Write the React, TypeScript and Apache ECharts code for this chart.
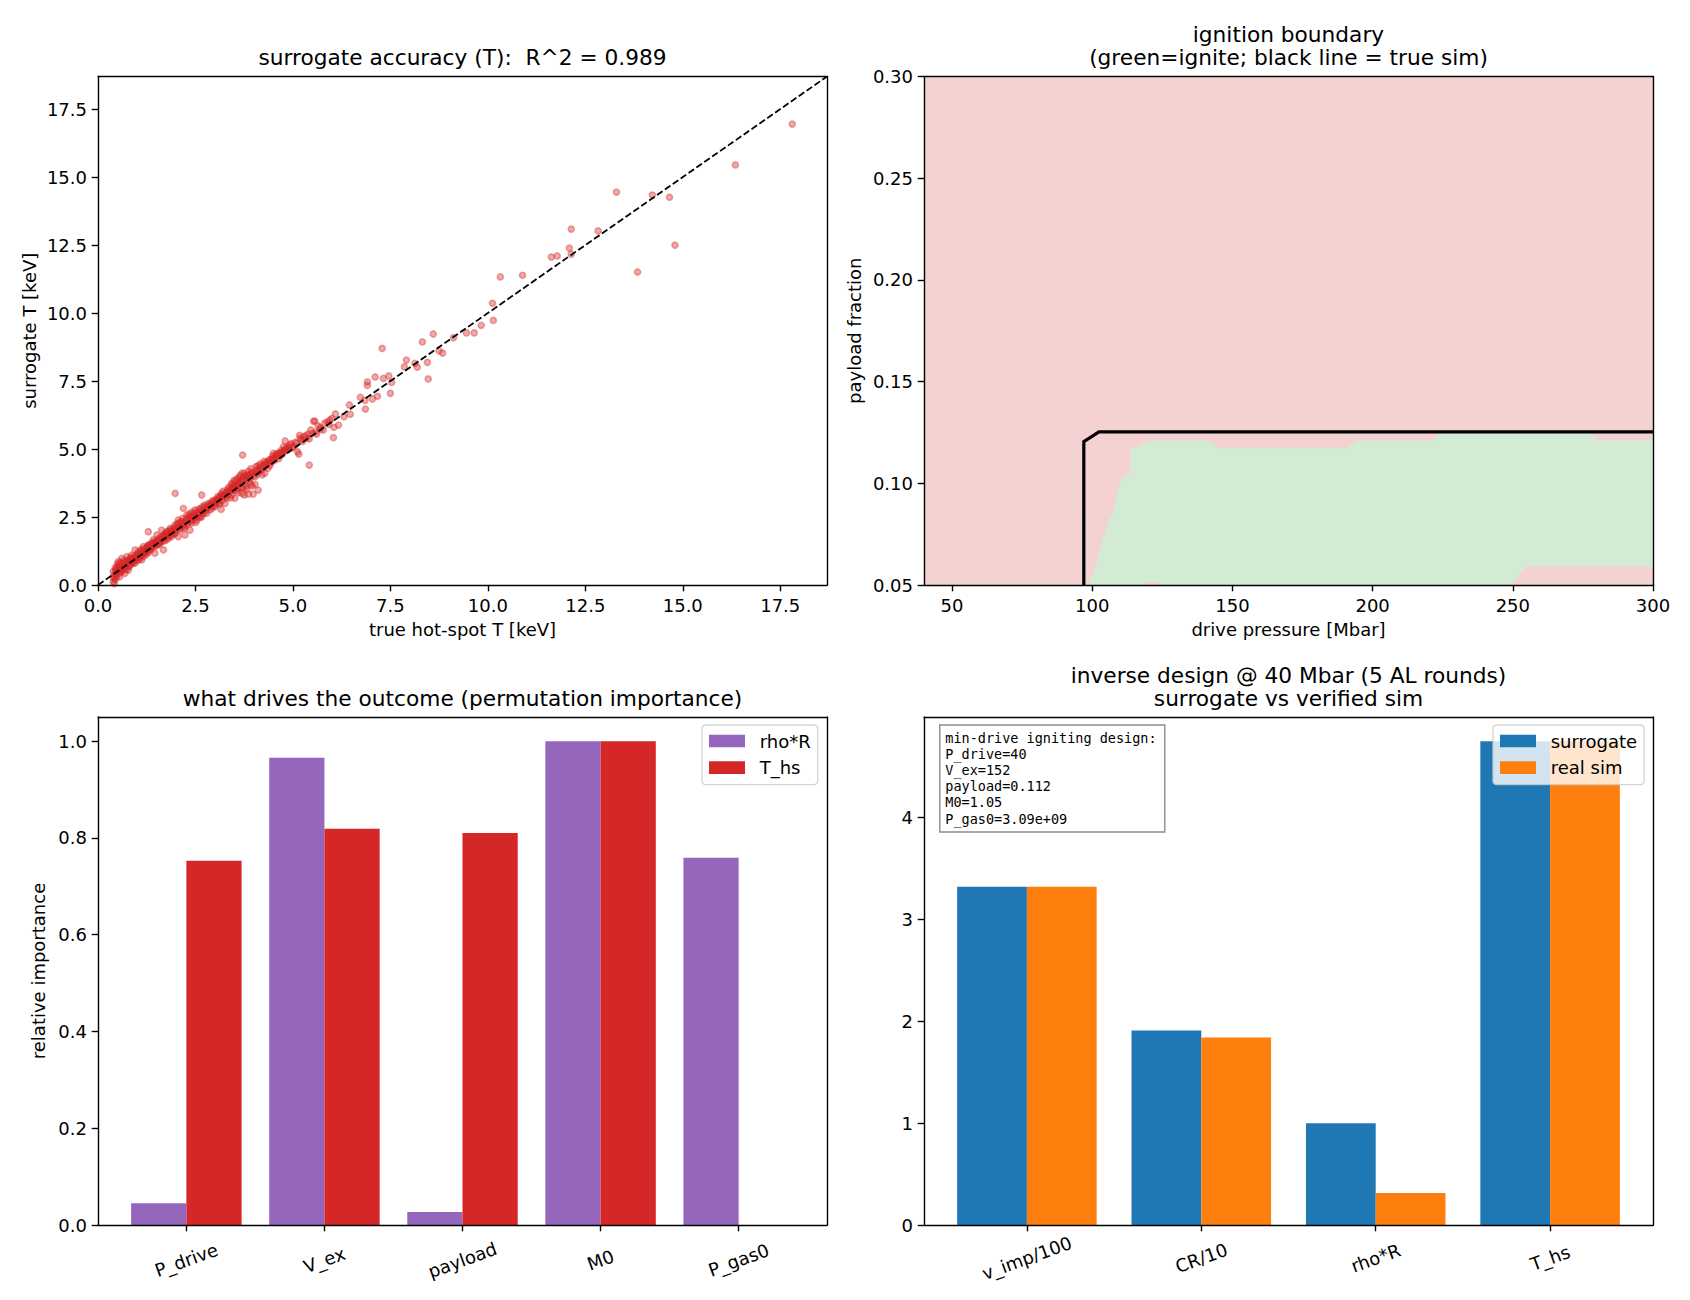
import React, { useEffect, useRef } from "react";
import * as echarts from "echarts";

// ---- surrogate accuracy scatter: [true hot-spot T, surrogate T] in keV ----
const accuracyPoints: [number, number][] = [
  [0.39, 0.12], [0.42, 0.05], [0.44, 0.2], [0.4, 0.31], [0.46, 0.38], [0.39, 0.49], [0.48, 0.44], [0.52, 0.58],
  [0.44, 0.62], [0.48, 0.67], [0.5, 0.78], [0.52, 0.86], [0.55, 0.71], [0.56, 0.55], [0.56, 0.31], [0.58, 0.47],
  [0.6, 0.64], [0.61, 0.98], [0.62, 0.8], [0.64, 0.52], [0.65, 0.74], [0.66, 0.9], [0.68, 0.6], [0.69, 0.43],
  [0.7, 0.84], [0.72, 0.69], [0.74, 1.04], [0.75, 0.77], [0.76, 0.92], [0.78, 0.55], [0.78, 0.67], [0.8, 0.86],
  [0.82, 0.98], [0.84, 0.75], [0.86, 0.86], [0.86, 1.1], [0.88, 0.94], [0.9, 0.8], [0.92, 1.02], [0.95, 0.8],
  [0.95, 1.29], [0.96, 0.92], [0.99, 0.98], [1.0, 1.12],
  [0.41, 0.25], [0.43, 0.4], [0.45, 0.55], [0.47, 0.28], [0.5, 0.5], [0.53, 0.66], [0.54, 0.42], [0.57, 0.82],
  [0.59, 0.57], [0.63, 0.7], [0.66, 0.64], [0.71, 0.77], [0.73, 0.58], [0.77, 0.84], [0.81, 0.7], [0.83, 0.92],
  [0.87, 1.02], [0.89, 0.85], [0.93, 0.9], [0.97, 1.06],
  [1.02, 0.9], [1.03, 1.22], [1.05, 1.05], [1.07, 0.96], [1.09, 1.15], [1.1, 1.3], [1.12, 0.92], [1.12, 1.1],
  [1.14, 1.22], [1.16, 1.41], [1.17, 1.05], [1.19, 1.18], [1.21, 1.22], [1.22, 1.35], [1.24, 1.12], [1.26, 1.28],
  [1.28, 1.45], [1.29, 1.47], [1.29, 1.96], [1.3, 1.2], [1.32, 1.38], [1.33, 1.29], [1.35, 1.52], [1.37, 1.32],
  [1.39, 1.44], [1.41, 1.58], [1.42, 1.66], [1.44, 1.4], [1.46, 1.17], [1.46, 1.47], [1.48, 1.6], [1.5, 1.52],
  [1.51, 1.84], [1.53, 1.46], [1.55, 1.7], [1.57, 1.58], [1.59, 1.53], [1.61, 1.75], [1.63, 1.59], [1.63, 2.02],
  [1.65, 1.68], [1.68, 1.29], [1.68, 1.82], [1.7, 1.62], [1.72, 1.9], [1.74, 1.74], [1.76, 1.66], [1.76, 1.96],
  [1.79, 1.84], [1.81, 1.72], [1.83, 2.0], [1.85, 2.08], [1.87, 1.85], [1.89, 1.78], [1.91, 1.98], [1.94, 2.1],
  [1.96, 1.88], [1.98, 1.9], [1.98, 2.21], [1.98, 3.37],
  [1.04, 1.15], [1.08, 1.02], [1.11, 1.25], [1.15, 1.12], [1.18, 1.32], [1.23, 1.2], [1.27, 1.38], [1.31, 1.3],
  [1.34, 1.44], [1.38, 1.4], [1.43, 1.52], [1.47, 1.55], [1.52, 1.62], [1.56, 1.5], [1.6, 1.68], [1.64, 1.78],
  [1.67, 1.72], [1.71, 1.8], [1.75, 1.88], [1.8, 1.95], [1.84, 1.82], [1.88, 2.02], [1.93, 1.92], [1.97, 2.05],
  [2.01, 2.05], [2.03, 2.25], [2.06, 1.78], [2.06, 2.39], [2.08, 2.12], [2.1, 2.02], [2.12, 2.3], [2.15, 2.18],
  [2.17, 2.45], [2.19, 2.27], [2.19, 2.82], [2.21, 2.08], [2.23, 1.84], [2.23, 2.14], [2.25, 2.36], [2.28, 2.57],
  [2.3, 2.22], [2.32, 2.48], [2.34, 2.62], [2.36, 2.02], [2.38, 2.35], [2.4, 2.27], [2.4, 2.51], [2.42, 2.68],
  [2.45, 2.42], [2.47, 2.55], [2.49, 2.76], [2.51, 2.3], [2.53, 2.39], [2.55, 2.62], [2.57, 2.57], [2.59, 2.8],
  [2.62, 2.48], [2.64, 2.7], [2.66, 2.51], [2.66, 3.31], [2.68, 2.88], [2.71, 2.62], [2.74, 2.94], [2.76, 2.72],
  [2.79, 2.64], [2.81, 2.85], [2.84, 3.0], [2.87, 2.76], [2.89, 2.92], [2.92, 2.82], [2.94, 3.1], [2.96, 3.06],
  [2.98, 2.9],
  [2.02, 2.15], [2.07, 2.28], [2.11, 2.08], [2.16, 2.32], [2.2, 2.2], [2.26, 2.44], [2.29, 2.3], [2.33, 2.4],
  [2.37, 2.55], [2.41, 2.38], [2.46, 2.62], [2.5, 2.5], [2.54, 2.7], [2.58, 2.52], [2.63, 2.78], [2.67, 2.66],
  [2.72, 2.85], [2.77, 2.8], [2.82, 2.95], [2.86, 2.88], [2.91, 3.02], [2.95, 2.95],
  [3.0, 2.88], [3.02, 3.15], [3.05, 3.02], [3.07, 3.25], [3.09, 3.19], [3.11, 2.98], [3.13, 3.0], [3.15, 3.3],
  [3.16, 2.78], [3.17, 3.37], [3.19, 3.12], [3.21, 3.45], [3.24, 3.25], [3.26, 3.0], [3.28, 3.38], [3.3, 3.19],
  [3.32, 3.52], [3.34, 3.31], [3.36, 3.6], [3.38, 3.42], [3.4, 3.2], [3.43, 3.31], [3.43, 3.68], [3.43, 3.74],
  [3.45, 3.5], [3.47, 3.49], [3.49, 3.85], [3.51, 3.19], [3.51, 3.8], [3.53, 3.58], [3.56, 3.49], [3.56, 3.9],
  [3.58, 3.68], [3.6, 3.4], [3.6, 3.56], [3.62, 3.95], [3.64, 4.02], [3.66, 3.75], [3.69, 3.37], [3.69, 3.56],
  [3.69, 4.11], [3.71, 4.78], [3.73, 3.86], [3.75, 3.31], [3.75, 4.11], [3.77, 3.7], [3.79, 3.95], [3.82, 3.52],
  [3.84, 4.05], [3.86, 3.34], [3.86, 4.19], [3.88, 3.8], [3.9, 3.92], [3.92, 4.28], [3.94, 4.14], [3.96, 3.64],
  [3.98, 3.34], [3.99, 4.02],
  [3.03, 3.08], [3.08, 3.1], [3.12, 3.22], [3.18, 3.25], [3.22, 3.32], [3.27, 3.28], [3.31, 3.42], [3.35, 3.45],
  [3.39, 3.52], [3.44, 3.58], [3.48, 3.62], [3.52, 3.66], [3.57, 3.72], [3.61, 3.78], [3.65, 3.85], [3.7, 3.88],
  [3.74, 3.98], [3.78, 4.02], [3.83, 3.9], [3.87, 4.0], [3.91, 4.05], [3.95, 4.1], [3.72, 3.6], [3.8, 3.62],
  [3.92, 3.7],
  [4.03, 3.7], [4.03, 3.98], [4.05, 4.35], [4.07, 4.23], [4.09, 4.08], [4.11, 3.49], [4.11, 4.39], [4.14, 4.18],
  [4.16, 4.45], [4.19, 4.25], [4.21, 4.05], [4.24, 4.31], [4.26, 4.55], [4.28, 4.11], [4.3, 4.4], [4.33, 4.47],
  [4.36, 4.3], [4.39, 4.6], [4.41, 4.39], [4.44, 4.5], [4.46, 4.63], [4.48, 4.75], [4.5, 4.84], [4.53, 4.58],
  [4.55, 4.7], [4.58, 4.72], [4.61, 4.85], [4.64, 4.65], [4.67, 4.87], [4.7, 4.95], [4.73, 4.8], [4.76, 5.09],
  [4.78, 4.96], [4.8, 5.3], [4.8, 4.93], [4.84, 5.05], [4.88, 4.98], [4.92, 5.15], [4.97, 5.03],
  [4.04, 4.15], [4.1, 4.22], [4.15, 4.3], [4.2, 4.38], [4.25, 4.42], [4.31, 4.52], [4.37, 4.52], [4.43, 4.62],
  [4.49, 4.65], [4.56, 4.8], [4.62, 4.78], [4.69, 4.85], [4.75, 4.9], [4.82, 5.0], [4.9, 5.08], [4.95, 5.2],
  [5.02, 5.1], [5.06, 5.25], [5.08, 5.21], [5.12, 4.9], [5.15, 4.81], [5.17, 5.5], [5.19, 5.4], [5.22, 5.34],
  [5.25, 5.28], [5.28, 5.45], [5.33, 5.5], [5.36, 5.4], [5.39, 5.55], [5.42, 5.37], [5.42, 4.41], [5.46, 5.7],
  [5.5, 5.58], [5.53, 6.02], [5.56, 6.03], [5.58, 5.62], [5.61, 5.55], [5.65, 5.85], [5.7, 5.79], [5.71, 5.73],
  [5.78, 5.7], [5.82, 5.95], [5.88, 6.0], [5.92, 5.91], [5.95, 6.07], [6.0, 6.13], [6.04, 5.42], [6.05, 5.8],
  [6.09, 6.29], [6.17, 5.88],
  [6.31, 6.19], [6.45, 6.62], [6.47, 6.28], [6.73, 6.9], [6.85, 6.79], [6.86, 6.47], [6.91, 7.47], [6.91, 7.34],
  [7.04, 6.84], [7.11, 7.65], [7.17, 6.94], [7.29, 8.7], [7.32, 7.6], [7.46, 7.69], [7.5, 7.05], [7.53, 7.45],
  [7.86, 8.02], [7.91, 8.27], [8.13, 8.15], [8.19, 8.01], [8.32, 8.94], [8.45, 8.19], [8.47, 7.58], [8.6, 9.23],
  [8.75, 8.61], [8.84, 8.53], [9.12, 9.1], [9.45, 9.27], [9.65, 9.27], [9.83, 9.55], [10.14, 9.73], [10.12, 10.36],
  [10.32, 11.33], [10.89, 11.39], [11.63, 12.06], [11.78, 12.1], [12.09, 12.39], [12.14, 12.17], [12.14, 13.09],
  [12.83, 13.02], [13.3, 14.45], [13.84, 11.51], [14.22, 14.34], [14.66, 14.26], [14.8, 12.5], [16.35, 15.45],
  [17.81, 16.95],
];
const accuracyLimit = 18.7;
const accuracyTicks = [0, 2.5, 5, 7.5, 10, 12.5, 15, 17.5];

// ---- ignition boundary map: drive pressure [Mbar] x payload fraction ----
const pressureRange = [40, 300];
const payloadRange = [0.05, 0.3];
const pressureTicks = [50, 100, 150, 200, 250, 300];
const payloadTicks = [0.05, 0.1, 0.15, 0.2, 0.25, 0.3];
const igniteRegion: [number, number][] = [
  [98.3, 0.05], [118.2, 0.05], [118.8, 0.0513], [123.6, 0.0513], [124.2, 0.05], [249.6, 0.05],
  [254.5, 0.059], [300, 0.059], [300, 0.1213], [280, 0.1213], [278, 0.1242], [223, 0.1242],
  [222, 0.121], [194.3, 0.121], [190.8, 0.1172], [145.0, 0.1172], [141.4, 0.121], [120.6, 0.121],
  [115.3, 0.1172], [113.5, 0.1164], [113.5, 0.1049], [110.5, 0.1024], [109.9, 0.1008], [107.0, 0.0844],
  [106.1, 0.0828], [102.2, 0.0656], [101.35, 0.059],
];
const trueSimBoundary: [number, number][] = [
  [97.0, 0.05], [97.0, 0.1205], [102.4, 0.1253], [300, 0.1253],
];

// ---- permutation importance ----
const importanceFeatures = ["P_drive", "V_ex", "payload", "M0", "P_gas0"];
const importanceRhoR = [0.045, 0.966, 0.027, 1.0, 0.759];
const importanceThs = [0.753, 0.819, 0.81, 1.0, 0.0];
const importanceTicks = [0, 0.2, 0.4, 0.6, 0.8, 1.0];

// ---- inverse design check ----
const designMetrics = ["v_imp/100", "CR/10", "rho*R", "T_hs"];
const designSurrogate = [3.317, 1.908, 0.998, 4.746];
const designRealSim = [3.317, 1.84, 0.315, 4.746];
const designTicks = [0, 1, 2, 3, 4];
const designNote = [
  "min-drive igniting design:",
  "P_drive=40",
  "V_ex=152",
  "payload=0.112",
  "M0=1.05",
  "P_gas0=3.09e+09",
];

const FONT = "DejaVu Sans";
const MONO = "DejaVu Sans Mono";
const BAR_W = 0.4;
const C = {
  purple: "#9467bd",
  red: "#d62728",
  blue: "#1f77b4",
  orange: "#ff7f0e",
  noIgnite: "#f4d2d2",
  ignite: "#d3ead3",
};

// grid rectangles (px): left, top, width, height
const grids = [
  { left: 98, top: 76.5, width: 729, height: 508.5 },
  { left: 924, top: 76.5, width: 729, height: 508.5 },
  { left: 98, top: 717, width: 729, height: 508 },
  { left: 924, top: 717, width: 729, height: 508 },
];

type AxisOpts = {
  gridIndex: number;
  position: string;
  min: number;
  max: number;
  ticks?: number[];
  fmt?: (v: number) => string;
  name?: string;
  nameGap?: number;
  label?: Record<string, unknown>;
};

function valueAxis(o: AxisOpts) {
  const vertical = o.position === "left" || o.position === "right";
  const framed = !o.ticks;
  return {
    type: "value",
    gridIndex: o.gridIndex,
    position: o.position,
    min: o.min,
    max: o.max,
    z: 5,
    axisLine: { show: true, onZero: false, lineStyle: { color: "#000", width: 1.4 } },
    axisTick: framed
      ? { show: false }
      : { show: true, inside: false, length: 6.3, customValues: o.ticks, lineStyle: { color: "#000", width: 1.4 } },
    axisLabel: framed
      ? { show: false }
      : {
          show: true,
          customValues: o.ticks,
          formatter: o.fmt,
          color: "#000",
          fontFamily: FONT,
          fontSize: 18,
          margin: 11,
          ...(o.label || {}),
        },
    splitLine: { show: false },
    name: o.name,
    nameLocation: "middle",
    nameGap: o.nameGap,
    nameRotate: vertical ? 90 : 0,
    nameMoveOverlap: false,
    nameTextStyle: { color: "#000", fontFamily: FONT, fontSize: 18 },
  };
}

function barSeries(name: string, color: string, values: number[], side: number, axisIndex: number) {
  return {
    type: "custom",
    name,
    xAxisIndex: axisIndex,
    yAxisIndex: axisIndex,
    itemStyle: { color },
    data: values.map((v, i) => [i, v]),
    z: 2,
    silent: true,
    renderItem: (_p: unknown, api: any) => {
      const x = api.value(0);
      const h = api.value(1);
      const x0 = side < 0 ? x - BAR_W : x;
      const a = api.coord([x0, h]);
      const b = api.coord([x0 + BAR_W, 0]);
      return {
        type: "rect",
        shape: { x: a[0], y: a[1], width: b[0] - a[0], height: b[1] - a[1] },
        style: { fill: color },
      };
    },
  };
}

function buildOption() {
  const titleStyle = { color: "#000", fontFamily: FONT, fontSize: 21.7, fontWeight: "normal", lineHeight: 22.5 };
  const centerTitle = (text: string, x: number, y: number) => ({
    text,
    left: x,
    top: y,
    textAlign: "center",
    textVerticalAlign: "middle",
    padding: 0,
    textStyle: titleStyle,
  });

  const designMax = Math.max(...designSurrogate, ...designRealSim) * 1.05;

  const xAxes = [
    valueAxis({
      gridIndex: 0, position: "bottom", min: 0, max: accuracyLimit, ticks: accuracyTicks,
      fmt: (v) => v.toFixed(1), name: "true hot-spot T [keV]", nameGap: 35,
    }),
    valueAxis({
      gridIndex: 1, position: "bottom", min: pressureRange[0], max: pressureRange[1], ticks: pressureTicks,
      fmt: (v) => String(v), name: "drive pressure [Mbar]", nameGap: 35,
    }),
    valueAxis({
      gridIndex: 2, position: "bottom", min: -0.64, max: 4.64, ticks: [0, 1, 2, 3, 4],
      fmt: (v) => importanceFeatures[Math.round(v)] ?? "",
      label: { rotate: 20, align: "center", verticalAlign: "middle", margin: 35 },
    }),
    valueAxis({
      gridIndex: 3, position: "bottom", min: -0.59, max: 3.59, ticks: [0, 1, 2, 3],
      fmt: (v) => designMetrics[Math.round(v)] ?? "",
      label: { rotate: 20, align: "center", verticalAlign: "middle", margin: 33 },
    }),
    valueAxis({ gridIndex: 0, position: "top", min: 0, max: accuracyLimit }),
    valueAxis({ gridIndex: 1, position: "top", min: pressureRange[0], max: pressureRange[1] }),
    valueAxis({ gridIndex: 2, position: "top", min: -0.64, max: 4.64 }),
    valueAxis({ gridIndex: 3, position: "top", min: -0.59, max: 3.59 }),
  ];
  const yAxes = [
    valueAxis({
      gridIndex: 0, position: "left", min: 0, max: accuracyLimit, ticks: accuracyTicks,
      fmt: (v) => v.toFixed(1), name: "surrogate T [keV]", nameGap: 60,
    }),
    valueAxis({
      gridIndex: 1, position: "left", min: payloadRange[0], max: payloadRange[1], ticks: payloadTicks,
      fmt: (v) => v.toFixed(2), name: "payload fraction", nameGap: 61,
    }),
    valueAxis({
      gridIndex: 2, position: "left", min: 0, max: 1.05, ticks: importanceTicks,
      fmt: (v) => v.toFixed(1), name: "relative importance", nameGap: 51,
    }),
    valueAxis({
      gridIndex: 3, position: "left", min: 0, max: designMax, ticks: designTicks, fmt: (v) => String(v),
    }),
    valueAxis({ gridIndex: 0, position: "right", min: 0, max: accuracyLimit }),
    valueAxis({ gridIndex: 1, position: "right", min: payloadRange[0], max: payloadRange[1] }),
    valueAxis({ gridIndex: 2, position: "right", min: 0, max: 1.05 }),
    valueAxis({ gridIndex: 3, position: "right", min: 0, max: designMax }),
  ];

  const domainCorners: [number, number][] = [
    [pressureRange[0], payloadRange[0]],
    [pressureRange[1], payloadRange[0]],
    [pressureRange[1], payloadRange[1]],
    [pressureRange[0], payloadRange[1]],
  ];

  const legendBase = {
    orient: "vertical",
    icon: "rect",
    itemWidth: 36,
    itemHeight: 12.6,
    itemGap: 8.6,
    selectedMode: false,
    backgroundColor: "rgba(255,255,255,0.8)",
    borderColor: "rgba(204,204,204,0.8)",
    borderWidth: 1.4,
    borderRadius: 3.5,
    padding: [7, 7, 8, 7],
    textStyle: { color: "#000", fontFamily: FONT, fontSize: 18, lineHeight: 18, padding: [0, 0, 0, 9.7] },
    z: 10,
  };

  return {
    animation: false,
    backgroundColor: "#ffffff",
    textStyle: { fontFamily: FONT },
    grid: grids.map((g) => ({ ...g, containLabel: false, outerBoundsMode: "none", show: false })),
    title: [
      centerTitle("surrogate accuracy (T):  R^2 = 0.989", 462.5, 57),
      centerTitle("ignition boundary\n(green=ignite; black line = true sim)", 1288.5, 45.8),
      centerTitle("what drives the outcome (permutation importance)", 462.5, 698.5),
      centerTitle("inverse design @ 40 Mbar (5 AL rounds)\nsurrogate vs verified sim", 1288.5, 687.2),
      {
        text: designNote.join("\n"),
        left: 939.3,
        top: 724.5,
        textAlign: "left",
        textVerticalAlign: "top",
        padding: [5, 8, 6, 6],
        backgroundColor: "rgba(255,255,255,0.8)",
        borderColor: "#8c8c8c",
        borderWidth: 1.4,
        textStyle: { color: "#000", fontFamily: MONO, fontSize: 13.5, fontWeight: "normal", lineHeight: 16.2 },
        z: 8,
      },
    ],
    legend: [
      { ...legendBase, data: ["rho*R", "T_hs"], left: 702, top: 725 },
      { ...legendBase, data: ["surrogate", "real sim"], left: 1493, top: 725 },
    ],
    xAxis: xAxes,
    yAxis: yAxes,
    series: [
      {
        type: "scatter",
        name: "surrogate vs true",
        xAxisIndex: 0,
        yAxisIndex: 0,
        data: accuracyPoints,
        symbol: "circle",
        symbolSize: 6.2,
        silent: true,
        itemStyle: { color: "rgba(214,39,40,0.5)", borderColor: "rgba(214,39,40,0.5)", borderWidth: 1.5 },
        z: 2,
      },
      {
        type: "line",
        name: "parity",
        xAxisIndex: 0,
        yAxisIndex: 0,
        data: [
          [0, 0],
          [accuracyLimit, accuracyLimit],
        ],
        symbol: "none",
        silent: true,
        lineStyle: { color: "#000", width: 1.8, type: [6.7, 2.9] },
        z: 3,
      },
      {
        type: "custom",
        name: "ignition map",
        xAxisIndex: 1,
        yAxisIndex: 1,
        data: [[pressureRange[0], payloadRange[0]]],
        silent: true,
        z: 1,
        renderItem: (_p: unknown, api: any) => ({
          type: "group",
          children: [
            {
              type: "polygon",
              shape: { points: domainCorners.map((p) => api.coord(p)) },
              style: { fill: C.noIgnite },
            },
            {
              type: "polygon",
              shape: { points: igniteRegion.map((p) => api.coord(p)) },
              style: { fill: C.ignite },
            },
          ],
        }),
      },
      {
        type: "line",
        name: "true sim boundary",
        xAxisIndex: 1,
        yAxisIndex: 1,
        data: trueSimBoundary,
        symbol: "none",
        silent: true,
        lineStyle: { color: "#000", width: 3.2, join: "miter" },
        z: 3,
      },
      barSeries("rho*R", C.purple, importanceRhoR, -1, 2),
      barSeries("T_hs", C.red, importanceThs, 1, 2),
      barSeries("surrogate", C.blue, designSurrogate, -1, 3),
      barSeries("real sim", C.orange, designRealSim, 1, 3),
    ],
  };
}

export default function App() {
  const ref = useRef<HTMLDivElement>(null);

  useEffect(() => {
    document.body.style.margin = "0";
    if (!ref.current) return;
    const chart = echarts.init(ref.current, undefined, { renderer: "svg", width: 1690, height: 1300 });
    chart.setOption(buildOption() as any);
    return () => chart.dispose();
  }, []);

  return (
    <div
      ref={ref}
      style={{ position: "absolute", left: 0, top: 0, width: 1690, height: 1300, background: "#ffffff" }}
    />
  );
}
